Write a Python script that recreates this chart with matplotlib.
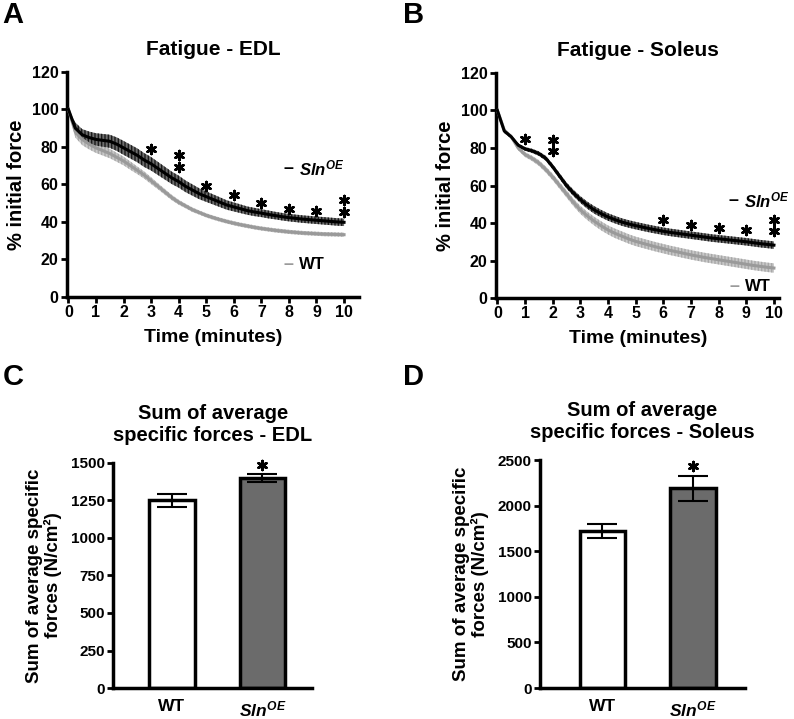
import numpy as np
import matplotlib.pyplot as plt

plt.rcParams['font.family'] = ['Liberation Sans', 'DejaVu Sans']
plt.rcParams['font.weight'] = 'bold'
plt.rcParams['mathtext.fontset'] = 'custom'
plt.rcParams['mathtext.it'] = 'Liberation Sans:italic:bold'
plt.rcParams['mathtext.rm'] = 'Liberation Sans:bold'
plt.rcParams['mathtext.bf'] = 'Liberation Sans:bold'

# time points (minutes)
time_min = [0, 0.25, 0.5, 0.75, 1, 1.25, 1.5, 1.75, 2, 2.25, 2.5, 2.75, 3, 3.25, 3.5, 3.75,
            4, 4.25, 4.5, 4.75, 5, 5.25, 5.5, 5.75, 6, 6.25, 6.5, 6.75, 7, 7.25, 7.5, 7.75,
            8, 8.25, 8.5, 8.75, 9, 9.25, 9.5, 9.75, 10]

# EDL fatigue (% initial force)
edl_sln = [100, 90, 86.5, 85, 84, 83.5, 83, 81.5, 79.5, 77.5, 75.5, 73, 71, 68.5, 66, 63.5,
           61.5, 59, 57, 55, 53.5, 52, 50.5, 49, 48, 47, 46, 45.3, 44.7, 44, 43.4, 42.8,
           42.3, 41.9, 41.5, 41.2, 40.9, 40.6, 40.3, 40.0, 39.8]
edl_sln_sem = [0, 3, 3, 3.2, 3.3, 3.4, 3.5, 3.6, 3.7, 3.7, 3.7, 3.7, 3.6, 3.5, 3.4, 3.3,
               3.2, 3.1, 3.0, 2.9, 2.8, 2.7, 2.6, 2.5, 2.4, 2.3, 2.2, 2.2, 2.1, 2.1, 2.0, 2.0,
               2.0, 2.0, 2.0, 2.0, 2.0, 2.0, 2.0, 2.0, 2.0]
edl_wt = [100, 88, 84, 81.5, 79.5, 78, 76.5, 74.5, 72.5, 70, 67.5, 65, 62, 59, 56, 53,
          50.5, 48.5, 46.5, 45, 43.5, 42.3, 41.2, 40.2, 39.3, 38.5, 37.8, 37.1, 36.5, 36, 35.5, 35.1,
          34.7, 34.4, 34.1, 33.9, 33.7, 33.5, 33.4, 33.3, 33.2]
edl_wt_sem = [0, 3, 3, 2.8, 2.7, 2.6, 2.5, 2.4, 2.3, 2.2, 2.0, 1.9, 1.8, 1.6, 1.5, 1.4,
              1.3, 1.2, 1.2, 1.1, 1.1, 1.1, 1.1, 1.1, 1.1, 1.1, 1.1, 1.1, 1.1, 1.1, 1.1, 1.1,
              1.1, 1.1, 1.1, 1.1, 1.1, 1.1, 1.1, 1.1, 1.1]

# Soleus fatigue (% initial force)
sol_sln = [100, 89, 86, 81.5, 79.5, 78.5, 77, 74.5, 70, 65, 60, 56, 52.5, 49.5, 47, 45,
           43.2, 41.8, 40.5, 39.5, 38.6, 37.8, 37, 36.3, 35.6, 35, 34.5, 34, 33.5, 33, 32.5, 32,
           31.6, 31.2, 30.8, 30.4, 30, 29.5, 29, 28.6, 28.2]
sol_sln_sem = [0, 1, 1, 1, 1, 1.1, 1.2, 1.3, 1.4, 1.5, 1.6, 1.7, 1.8, 1.9, 2.0, 2.0,
               2.0, 2.0, 2.0, 2.0, 2.0, 2.0, 2.0, 2.0, 2.0, 2.0, 2.0, 2.0, 2.0, 2.0, 2.0, 2.0,
               2.0, 2.0, 2.0, 2.0, 2.0, 2.0, 2.0, 2.0, 2.0]
sol_wt = [100, 89.5, 86, 80, 76.5, 74.5, 72, 68.5, 64.5, 60, 55.5, 51, 47, 43.8, 41, 38.5,
          36.3, 34.5, 33, 31.5, 30.2, 29.2, 28.2, 27.2, 26.3, 25.4, 24.6, 23.8, 23, 22.3, 21.6, 21,
          20.4, 19.8, 19.2, 18.6, 18, 17.4, 16.9, 16.4, 16]
sol_wt_sem = [0, 1, 1, 1.2, 1.3, 1.4, 1.5, 1.6, 1.7, 1.8, 1.9, 2.0, 2.1, 2.2, 2.3, 2.4,
              2.4, 2.5, 2.5, 2.5, 2.5, 2.5, 2.5, 2.5, 2.5, 2.5, 2.5, 2.5, 2.5, 2.5, 2.5, 2.5,
              2.5, 2.5, 2.5, 2.5, 2.5, 2.5, 2.5, 2.5, 2.5]

# significance asterisks (time, % force)
edl_star_t = [3, 4, 4, 5, 6, 7, 8, 9, 10, 10]
edl_star_y = [79, 75.5, 69.5, 59, 54.5, 50, 47, 46, 51.5, 45.5]
sol_star_t = [1, 2, 2, 6, 7, 8, 9, 10, 10]
sol_star_y = [85, 84.5, 78.5, 41.4, 38.8, 37.3, 36.4, 41.8, 35.8]

# sum of average specific forces (N/cm2)
groups = ['WT', r'$\mathit{Sln}^{\mathit{OE}}$']
edl_sum = [1250, 1400]
edl_sum_sem = [45, 28]
sol_sum = [1720, 2190]
sol_sum_sem = [80, 140]

BLACK = '#000000'
GRAY = '#9a9a9a'
STAR = (6, 2, 0)

fig = plt.figure(figsize=(7.94, 7.19), dpi=100)


def style_axes(ax, tick_size):
    for s in ['top', 'right']:
        ax.spines[s].set_visible(False)
    for s in ['left', 'bottom']:
        ax.spines[s].set_linewidth(2.5)
    ax.tick_params(direction='out', length=4, width=2, labelsize=tick_size, pad=2)
    for lab in ax.get_xticklabels() + ax.get_yticklabels():
        lab.set_fontweight('bold')


def fatigue_panel(rect, title, sln, sln_sem, wt, wt_sem, star_t, star_y, xmax, leg):
    ax = fig.add_axes(rect)
    t = np.array(time_min)
    for y, e, fc, hc, lc in [(wt, wt_sem, '#c8c8c8', '#a8a8a8', GRAY),
                             (sln, sln_sem, '#6e6e6e', '#1a1a1a', BLACK)]:
        y = np.array(y)
        e = np.array(e)
        ax.fill_between(t, y - e, y + e, facecolor=fc, edgecolor=hc,
                        hatch='|||||', linewidth=0, zorder=2)
        ax.plot(t, y, color=lc, lw=2.2, zorder=3)
    ax.scatter(star_t, star_y, marker=STAR, s=42, linewidths=1.9, color='black',
               zorder=4, clip_on=False)
    ax.set_xlim(-0.05, xmax)
    ax.set_ylim(0, 120)
    ax.set_xticks(range(0, 11))
    ax.set_yticks(range(0, 121, 20))
    ax.set_title(title, fontsize=15, fontweight='bold', pad=12)
    ax.set_xlabel('Time (minutes)', fontsize=14, fontweight='bold', labelpad=6)
    ax.set_ylabel('% initial force', fontsize=14.5, fontweight='bold', labelpad=4)
    style_axes(ax, 11.5)
    # inline legend
    (sx, sy), (wx, wy) = leg
    ax.text(sx, sy, '\u2013', color=BLACK, fontsize=13, fontweight='bold',
            transform=ax.transAxes, ha='left', va='center')
    ax.text(sx + 0.055, sy, r'$\mathit{Sln}^{\mathit{OE}}$', fontsize=12,
            transform=ax.transAxes, ha='left', va='center')
    ax.text(wx, wy, '\u2013', color=GRAY, fontsize=13, fontweight='bold',
            transform=ax.transAxes, ha='left', va='center')
    ax.text(wx + 0.055, wy, 'WT', fontsize=12, fontweight='bold',
            transform=ax.transAxes, ha='left', va='center')
    return ax


def bar_panel(rect, title, vals, sems, ymax, ystep, xlim):
    ax = fig.add_axes(rect)
    x = np.arange(len(groups))
    ax.bar(x, vals, width=0.5, color=['white', '#6b6b6b'], edgecolor='black',
           linewidth=2.5, zorder=2)
    ax.errorbar(x, vals, yerr=sems, fmt='none', ecolor='black', elinewidth=1.5,
                capsize=11, capthick=1.5, zorder=3)
    ax.scatter([x[1]], [vals[1] + sems[1] + ymax * 0.04], marker=STAR, s=42,
               linewidths=1.9, color='black', zorder=4, clip_on=False)
    ax.set_xlim(*xlim)
    ax.set_ylim(0, ymax)
    ax.set_yticks(range(0, ymax + 1, ystep))
    ax.set_xticks(x)
    ax.set_xticklabels(groups, fontsize=12)
    ax.set_title(title, fontsize=14.5, fontweight='bold', pad=16, linespacing=1.2)
    ax.set_ylabel('Sum of average specific\nforces (N/cm\u00b2)', fontsize=13.5,
                  fontweight='bold', labelpad=6, linespacing=1.1)
    style_axes(ax, 11)
    ax.tick_params(axis='x', length=0, pad=8, labelsize=12.5)
    return ax


fatigue_panel([0.0844, 0.587, 0.368, 0.313], 'Fatigue - EDL', edl_sln, edl_sln_sem,
              edl_wt, edl_wt_sem, edl_star_t, edl_star_y, 10.55,
              ((0.74, 0.57), (0.74, 0.145)))
fatigue_panel([0.6247, 0.5855, 0.357, 0.313], 'Fatigue - Soleus', sol_sln, sol_sln_sem,
              sol_wt, sol_wt_sem, sol_star_t, sol_star_y, 10.2,
              ((0.82, 0.435), (0.825, 0.05)))
bar_panel([0.1423, 0.0431, 0.251, 0.313], 'Sum of average\nspecific forces - EDL',
          edl_sum, edl_sum_sem, 1500, 250, (-0.65, 1.55))
bar_panel([0.680, 0.0431, 0.258, 0.317], 'Sum of average\nspecific forces - Soleus',
          sol_sum, sol_sum_sem, 2500, 500, (-0.69, 1.57))

for lab, x, y in [('A', 0.003, 0.998), ('B', 0.507, 0.998), ('C', 0.003, 0.495), ('D', 0.507, 0.495)]:
    fig.text(x, y, lab, fontsize=21, fontweight='bold', ha='left', va='top')

fig.savefig('out.png', dpi=100)
